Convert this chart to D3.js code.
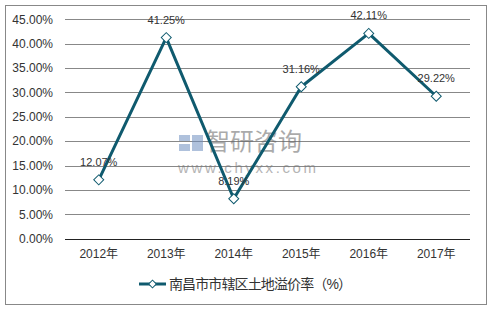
<!DOCTYPE html>
<html><head><meta charset="utf-8">
<script src="https://cdn.jsdelivr.net/npm/d3@7"></script>
<style>body{margin:0;background:#fff}svg{display:block}text{font-family:"Liberation Sans",Arial,"Noto Sans CJK SC",sans-serif}</style>
</head><body>
<svg id="c" width="492" height="311"></svg>
<script>
const categories = ["2012年","2013年","2014年","2015年","2016年","2017年"];
const values = [12.07, 41.25, 8.19, 31.16, 42.11, 29.22];
const yTicks = [0,5,10,15,20,25,30,35,40,45];
const seriesName = "南昌市市辖区土地溢价率（%）";

const svg = d3.select("#c");
const color = "#0f5a6e";
svg.append("rect").attr("x",5.5).attr("y",5.5).attr("width",481).attr("height",299)
  .attr("fill","#fff").attr("stroke","#888").attr("stroke-width",1);

const x = d3.scaleBand().domain(categories).range([65,470]);
const y = d3.scaleLinear().domain([0,45]).range([238.7,19.3]);

// gridlines
svg.append("g").selectAll("line").data(yTicks.filter(d=>d>0)).join("line")
  .attr("x1",65).attr("x2",470).attr("y1",d=>Math.round(y(d))+0.5).attr("y2",d=>Math.round(y(d))+0.5)
  .attr("stroke","#888").attr("stroke-width",1);
svg.append("line").attr("x1",65).attr("x2",470).attr("y1",Math.round(y(0))+0.5).attr("y2",Math.round(y(0))+0.5)
  .attr("stroke","#222").attr("stroke-width",1);

// y labels
svg.append("g").selectAll("text").data(yTicks).join("text")
  .attr("x",53).attr("y",d=>y(d)).attr("dy","0.35em").attr("text-anchor","end")
  .attr("font-size",12).attr("fill","#333").text(d=>d.toFixed(2)+"%");

// x labels
svg.append("g").selectAll("text").data(categories).join("text")
  .attr("x",d=>x(d)+x.bandwidth()/2).attr("y",254).attr("dy","0.35em").attr("text-anchor","middle")
  .attr("font-size",12).attr("fill","#333").text(d=>d);

// watermark
const wm = svg.append("g").attr("opacity",0.55);
wm.append("rect").attr("x",179).attr("y",135).attr("width",11).attr("height",6).attr("fill","#6f8fc0");
wm.append("rect").attr("x",179).attr("y",144).attr("width",11).attr("height",7).attr("fill","#6f8fc0");
wm.append("rect").attr("x",192).attr("y",135).attr("width",11).attr("height",16).attr("fill","#6f8fc0");
wm.append("text").attr("x",206).attr("y",150).attr("font-size",24).attr("fill","#666")
  .attr("font-family","Noto Sans CJK SC").text("智研咨询");
wm.append("text").attr("x",178).attr("y",173).attr("font-size",15).attr("fill","#777")
  .attr("textLength",138).attr("lengthAdjust","spacing").text("www.chyxx.com");

// line
const pts = categories.map((c,i)=>({c,v:values[i]}));
svg.append("path").datum(pts)
  .attr("d",d3.line().x(d=>x(d.c)+x.bandwidth()/2).y(d=>y(d.v)))
  .attr("fill","none").attr("stroke",color).attr("stroke-width",3).attr("stroke-linejoin","round");

svg.append("g").selectAll("path").data(pts).join("path")
  .attr("d",d3.symbol().type(d3.symbolSquare).size(50))
  .attr("transform",d=>`translate(${x(d.c)+x.bandwidth()/2},${y(d.v)}) rotate(45)`)
  .attr("fill","#fff").attr("stroke",color).attr("stroke-width",1);

svg.append("g").selectAll("text").data(pts).join("text")
  .attr("x",d=>x(d.c)+x.bandwidth()/2).attr("y",d=>y(d.v)-14)
  .attr("text-anchor","middle").attr("font-size",11).attr("fill","#333")
  .text(d=>d.v.toFixed(2)+"%");

// legend
const lg = svg.append("g");
lg.append("line").attr("x1",139).attr("x2",166).attr("y1",284).attr("y2",284).attr("stroke",color).attr("stroke-width",3);
lg.append("path").attr("d",d3.symbol().type(d3.symbolSquare).size(30)).attr("transform","translate(152.5,284) rotate(45)")
  .attr("fill","#fff").attr("stroke",color).attr("stroke-width",1);
lg.append("text").attr("x",169).attr("y",284).attr("dy","0.35em").attr("font-size",14).attr("fill","#333")
  .attr("font-family","Noto Sans CJK SC").attr("textLength",183).attr("lengthAdjust","spacing").text(seriesName);
</script>
</body></html>
